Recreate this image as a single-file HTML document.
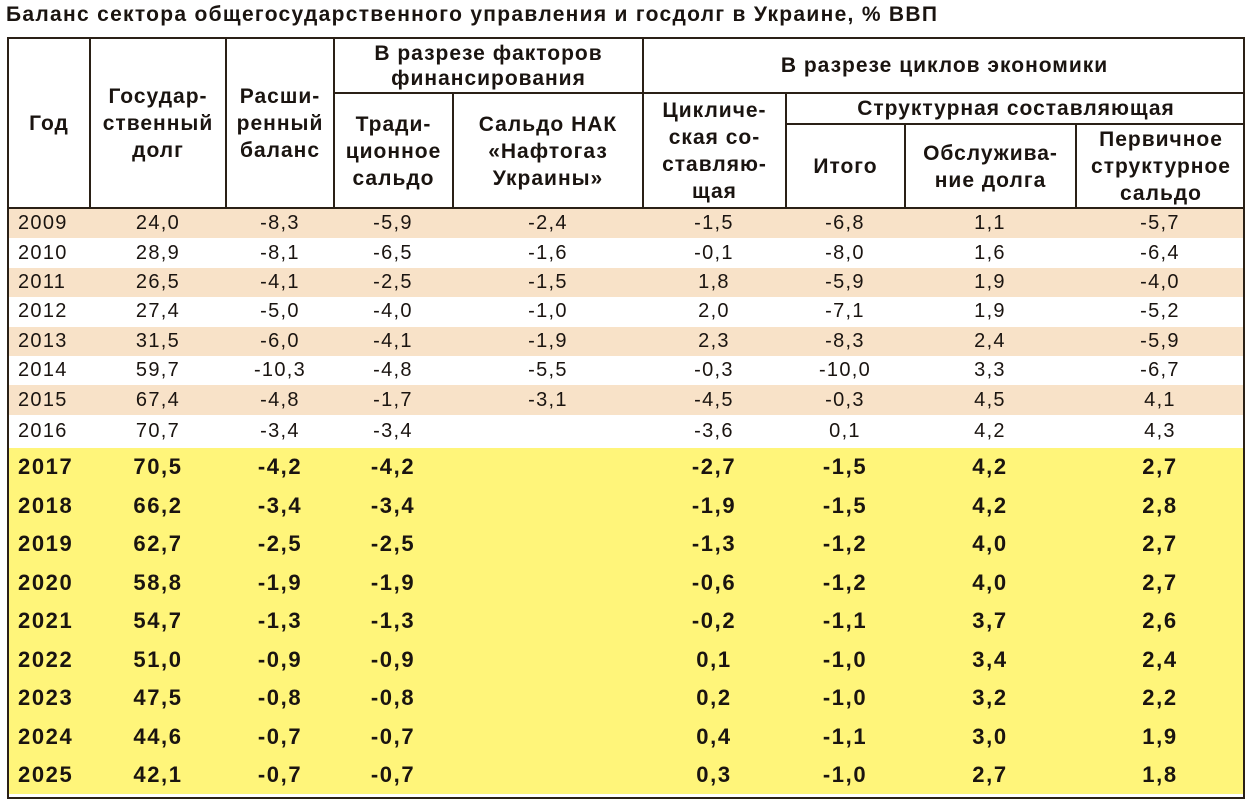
<!DOCTYPE html>
<html><head><meta charset="utf-8">
<style>
body{margin:0;width:1250px;height:807px;background:#fff;position:relative;overflow:hidden;font-family:"Liberation Sans",Arial,sans-serif;color:#1a1410}
.a{position:absolute}
.t{position:absolute;left:6px;top:3px;font-weight:bold;font-size:21px;letter-spacing:1.3px;white-space:nowrap}
.h{position:absolute;display:flex;align-items:center;justify-content:center;text-align:center;font-weight:bold;font-size:21px;letter-spacing:1px;line-height:27px;white-space:nowrap}
.vl{position:absolute;width:2px;background:#2a2016}
.hl{position:absolute;height:2px;background:#2a2016}
.row{position:absolute;left:9px;width:1235px}
.c{position:absolute;top:0;height:100%;display:flex;align-items:center;white-space:nowrap}
</style></head><body>
<div class="t">Баланс сектора общегосударственного управления и госдолг в Украине, % ВВП</div>
<div id="body"></div>
<div class="a" style="left:7px;top:37px;width:1234px;height:758px;border:2px solid #2a2016"></div>
<div class="hl" style="left:7px;top:207px;width:1238px"></div>
<div class="vl" style="left:89px;top:37px;height:171px"></div>
<div class="vl" style="left:225px;top:37px;height:171px"></div>
<div class="vl" style="left:333px;top:37px;height:171px"></div>
<div class="vl" style="left:452px;top:93px;height:115px"></div>
<div class="vl" style="left:642px;top:37px;height:171px"></div>
<div class="vl" style="left:785px;top:93px;height:115px"></div>
<div class="vl" style="left:904px;top:124px;height:84px"></div>
<div class="vl" style="left:1075px;top:124px;height:84px"></div>
<div class="hl" style="left:333px;top:92px;width:912px"></div>
<div class="hl" style="left:785px;top:123px;width:460px"></div>
<div class="h" style="left:9px;top:39px;width:80px;height:168px">Год</div>
<div class="h" style="left:91px;top:39px;width:134px;height:168px">Государ-<br>ственный<br>долг</div>
<div class="h" style="left:227px;top:39px;width:106px;height:168px">Расши-<br>ренный<br>баланс</div>
<div class="h" style="left:335px;top:39px;width:307px;height:53px;line-height:25px">В разрезе факторов<br>финансирования</div>
<div class="h" style="left:335px;top:96px;width:117px;height:111px">Тради-<br>ционное<br>сальдо</div>
<div class="h" style="left:454px;top:96px;width:188px;height:111px">Сальдо НАК<br>«Нафтогаз<br>Украины»</div>
<div class="h" style="left:644px;top:39px;width:601px;height:53px">В разрезе циклов экономики</div>
<div class="h" style="left:644px;top:94px;width:141px;height:113px;line-height:27px">Цикличе-<br>ская со-<br>ставляю-<br>щая</div>
<div class="h" style="left:787px;top:94px;width:458px;height:29px">Структурная составляющая</div>
<div class="h" style="left:787px;top:126px;width:117px;height:81px">Итого</div>
<div class="h" style="left:906px;top:126px;width:169px;height:81px">Обслужива-<br>ние долга</div>
<div class="h" style="left:1077px;top:126px;width:168px;height:81px">Первичное<br>структурное<br>сальдо</div>
<script>
const years=[2009,2010,2011,2012,2013,2014,2015,2016,2017,2018,2019,2020,2021,2022,2023,2024,2025];
const debt=["24,0","28,9","26,5","27,4","31,5","59,7","67,4","70,7","70,5","66,2","62,7","58,8","54,7","51,0","47,5","44,6","42,1"];
const extBalance=["-8,3","-8,1","-4,1","-5,0","-6,0","-10,3","-4,8","-3,4","-4,2","-3,4","-2,5","-1,9","-1,3","-0,9","-0,8","-0,7","-0,7"];
const tradBalance=["-5,9","-6,5","-2,5","-4,0","-4,1","-4,8","-1,7","-3,4","-4,2","-3,4","-2,5","-1,9","-1,3","-0,9","-0,8","-0,7","-0,7"];
const naftogaz=["-2,4","-1,6","-1,5","-1,0","-1,9","-5,5","-3,1","","","","","","","","","",""];
const cyclical=["-1,5","-0,1","1,8","2,0","2,3","-0,3","-4,5","-3,6","-2,7","-1,9","-1,3","-0,6","-0,2","0,1","0,2","0,4","0,3"];
const structTotal=["-6,8","-8,0","-5,9","-7,1","-8,3","-10,0","-0,3","0,1","-1,5","-1,5","-1,2","-1,2","-1,1","-1,0","-1,0","-1,1","-1,0"];
const debtService=["1,1","1,6","1,9","1,9","2,4","3,3","4,5","4,2","4,2","4,2","4,0","4,0","3,7","3,4","3,2","3,0","2,7"];
const primaryStruct=["-5,7","-6,4","-4,0","-5,2","-5,9","-6,7","4,1","4,3","2,7","2,8","2,7","2,7","2,6","2,4","2,2","1,9","1,8"];
const cols=[debt,extBalance,tradBalance,naftogaz,cyclical,structTotal,debtService,primaryStruct];
const centers=[158,280,393,548,714,845,990,1160];
const body=document.getElementById('body');
let y=209;
years.forEach((yr,i)=>{
  const bold=yr>=2017;
  const h=bold?38.5:(yr===2016?33:29.4);
  const bg=bold?'#fff57a':(i%2===0?'#f8e2c8':'#fff');
  const r=document.createElement('div');
  r.className='row';
  
  
  r.style.top=y+'px';r.style.height=h+'px';r.style.background=bg;
  r.style.fontSize=bold?'22px':'20px';r.style.fontWeight=bold?'bold':'normal';
  r.style.letterSpacing=bold?'1.6px':'1.3px';
  const yc=document.createElement('div');
  yc.className='c';yc.style.left='9px';yc.textContent=yr;
  
  
  r.appendChild(yc);
  cols.forEach((col,j)=>{
    const c=document.createElement('div');
    c.className='c';
    
    
    c.style.left=(centers[j]-9-60)+'px';c.style.width='120px';c.style.justifyContent='center';
    c.textContent=col[i];
    r.appendChild(c);
  });
  body.appendChild(r);
  y+=h;
});
</script>
</body></html>
